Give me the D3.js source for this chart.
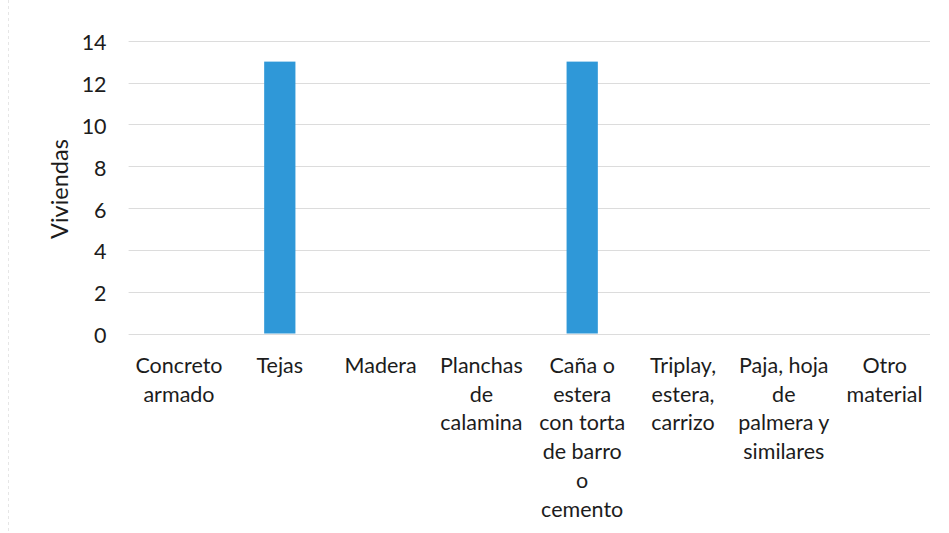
<!DOCTYPE html>
<html>
<head>
<meta charset="utf-8">
<script src="https://cdn.jsdelivr.net/npm/d3@7"></script>
<style>
  html, body { margin: 0; padding: 0; background: #fff; }
  svg { display: block; font-family: Lato, "Open Sans", sans-serif; }
</style>
</head>
<body>
<svg id="chart" width="949" height="533"></svg>
<script>
// Roof material categories (line breaks as they wrap under each bar)
const categories = [
  "Concreto\narmado",
  "Tejas",
  "Madera",
  "Planchas\nde\ncalamina",
  "Caña o\nestera\ncon torta\nde barro\no\ncemento",
  "Triplay,\nestera,\ncarrizo",
  "Paja, hoja\nde\npalmera y\nsimilares",
  "Otro\nmaterial"
];
const values = [0, 13, 0, 0, 13, 0, 0, 0];
const yTicks = [0, 2, 4, 6, 8, 10, 12, 14];
const yTitle = "Viviendas";

const svg = d3.select("#chart");
const plotLeft = 128.6, plotRight = 935, plotTop = 40.7, plotBottom = 333.5;
const fontSize = 21.5;
const textColor = "#1c1c1c";

const x = d3.scaleBand()
  .domain(categories)
  .range([plotLeft, plotRight])
  .paddingInner(0.69)
  .paddingOuter(0.345);

const y = d3.scaleLinear().domain([0, 14]).range([plotBottom, plotTop]);

// faint outer frame line on the left
svg.append("line")
  .attr("x1", 8.5).attr("x2", 8.5).attr("y1", 0).attr("y2", 533)
  .attr("stroke", "#e6e6e6").attr("stroke-dasharray", "3,3");

// horizontal gridlines
svg.append("g")
  .selectAll("line")
  .data(yTicks)
  .join("line")
  .attr("x1", plotLeft).attr("x2", 930)
  .attr("y1", d => Math.round(y(d)) + 0.5)
  .attr("y2", d => Math.round(y(d)) + 0.5)
  .attr("stroke", "#dcdcdc")
  .attr("stroke-width", 1);

// y axis labels
const yAxis = svg.append("g")
  .attr("transform", `translate(${plotLeft - 22},0)`)
  .call(d3.axisLeft(y).tickValues(yTicks).tickSize(0).tickPadding(0));
yAxis.select(".domain").remove();
yAxis.selectAll("text")
  .attr("font-family", "Lato, 'Open Sans', sans-serif")
  .attr("font-size", fontSize)
  .attr("dy", "0.42em")
  .attr("fill", textColor);

// axis title
svg.append("text")
  .attr("transform", `translate(68,${(plotTop + plotBottom) / 2 + 2}) rotate(-90)`)
  .attr("text-anchor", "middle")
  .attr("font-size", 23.5)
  .attr("fill", textColor)
  .text(yTitle);

// bars
svg.append("g")
  .selectAll("rect")
  .data(values)
  .join("rect")
  .attr("x", (d, i) => x(categories[i]))
  .attr("width", x.bandwidth())
  .attr("y", d => y(d))
  .attr("height", d => y(0) - y(d))
  .attr("fill", "#2f98d8");

// category labels
const lineH = 28.7;
const labels = svg.append("g")
  .selectAll("text")
  .data(categories)
  .join("text")
  .attr("text-anchor", "middle")
  .attr("font-size", fontSize)
  .attr("fill", textColor)
  .attr("transform", d => `translate(${x(d) + x.bandwidth() / 2},373)`);
labels.selectAll("tspan")
  .data(d => d.split("\n"))
  .join("tspan")
  .attr("x", 0)
  .attr("y", (d, i) => i * lineH)
  .text(d => d);
</script>
</body>
</html>
